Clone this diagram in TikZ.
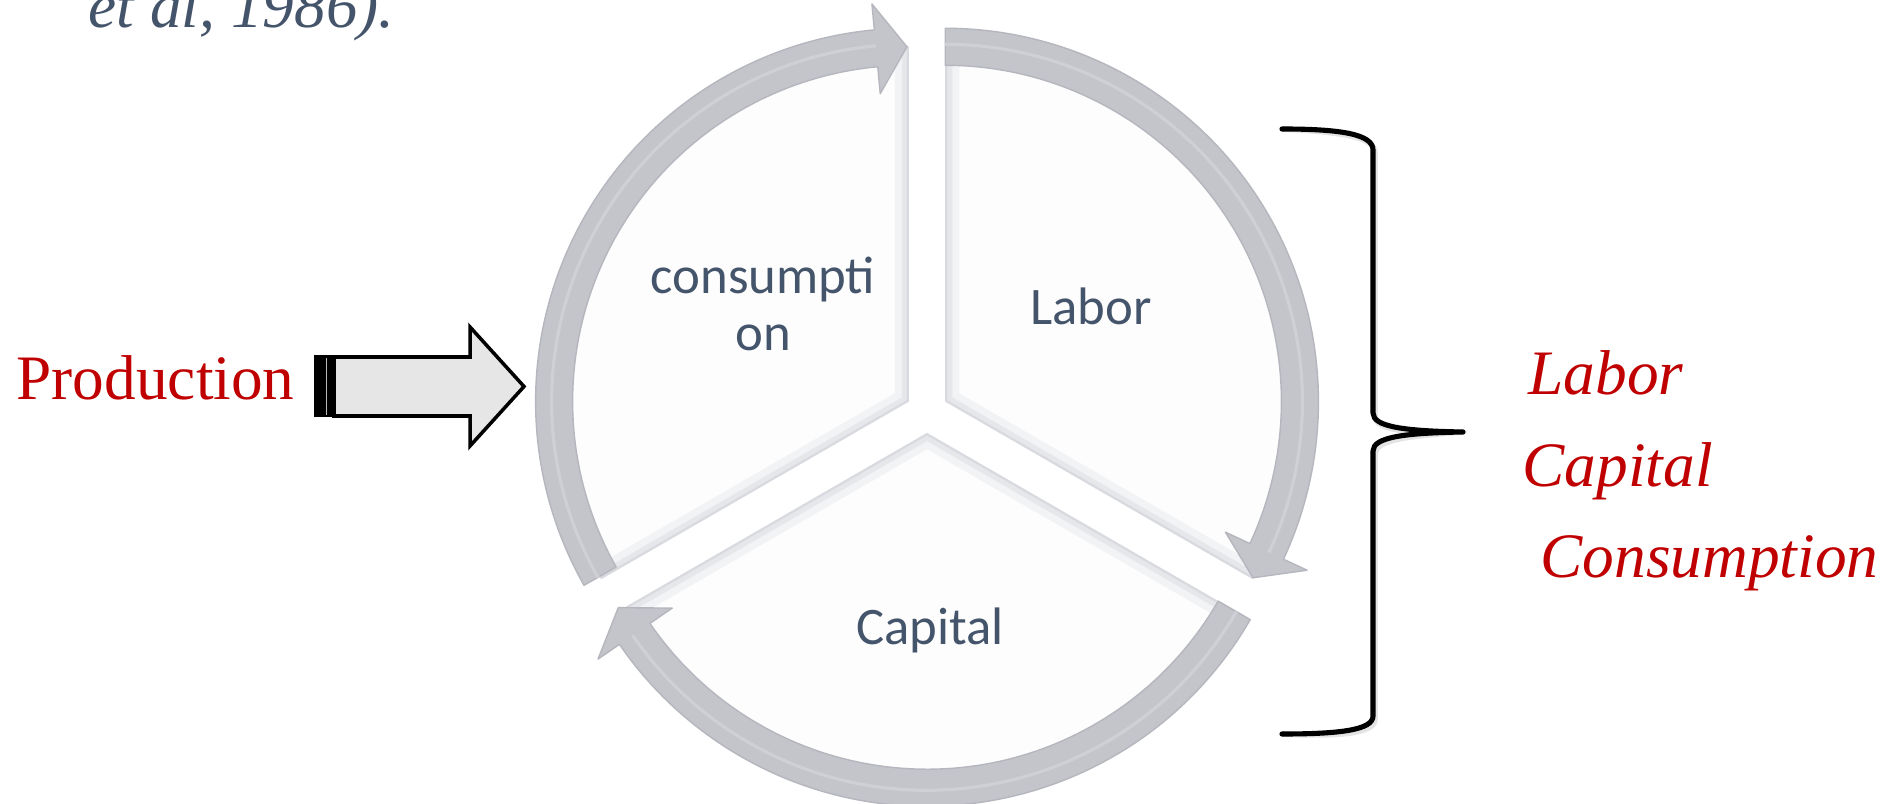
\documentclass[tikz,border=0pt]{standalone}
\usepackage{fontspec}
\setmainfont{Liberation Serif}
\newfontfamily\calibfont{Carlito}
\definecolor{slate}{HTML}{44546A}
\definecolor{redtxt}{HTML}{C00000}
\definecolor{arrowgray}{HTML}{C4C5CB}
\definecolor{arrowedge}{HTML}{B6B7BE}
\definecolor{arrowlight}{HTML}{CFD0D5}
\definecolor{secfill}{HTML}{FDFDFE}
\definecolor{bevA}{HTML}{F2F3F5}
\definecolor{bevB}{HTML}{E6E7EB}
\definecolor{bevC}{HTML}{D8DADF}
\definecolor{blockfill}{HTML}{E6E6E6}
\tikzset{
  citetext/.style={font=\fontsize{18}{21}\selectfont\itshape, text=slate, inner sep=0pt, anchor=base west},
  prodtext/.style={font=\fontsize{18}{21}\selectfont, text=redtxt, inner sep=0pt, anchor=base west},
  listtext/.style={font=\fontsize{18}{21}\selectfont\itshape, text=redtxt, inner sep=0pt, anchor=base west},
  seglabel/.style={font=\calibfont\fontsize{15}{16.4}\selectfont, text=slate, inner sep=0pt, align=center},
  cyclearrow/.style={fill=arrowgray, draw=arrowedge, line width=0.4pt, line join=round},
  stripe/.style={draw=arrowlight, line width=0.9pt},
  bracestyle/.style={draw=black, line width=1.45pt, line cap=round, line join=round},
  blockarrow/.style={fill=blockfill, draw=black, line width=1pt, line join=miter}
}
% #1 centre, #2 tail angle, #3 head base angle, #4 tip angle
\newcommand\cycarrow[4]{%
  \begin{scope}[shift={(#1)}]
    \filldraw[cyclearrow] (#2:3.73cm) arc[start angle=#2, end angle=#3, radius=3.73cm]
      -- (#3:3.99cm) -- (#4:3.545cm) -- (#3:3.09cm) -- (#3:3.36cm)
      arc[start angle=#3, end angle=#2, radius=3.36cm] -- cycle;
    \draw[stripe] (#2:3.57cm) arc[start angle=#2, end angle=#3, radius=3.57cm];
  \end{scope}}
\begin{document}
\begin{tikzpicture}[x=0.01cm,y=0.01cm]
\path[use as bounding box] (0,0) rectangle (1889,-804);
\begin{scope}
\clip (0,0) rectangle (1889,-804);
\fill[white] (0,0) rectangle (1889,-804);

% centres of the three segments
\coordinate (cc) at (908.8,-401.5);
\coordinate (cl) at (945.2,-401.5);
\coordinate (ck) at (927,-433);

% segments
\foreach \cx/\cy/\sa/\ea in {908.8/-401.5/90/210, 945.2/-401.5/-30/90, 927/-433/210/330}{
  \begin{scope}
    \clip (\cx,\cy) -- ++(\sa:3.55cm) arc[start angle=\sa, end angle=\ea, radius=3.55cm] -- cycle;
    \fill[secfill] (\cx,\cy) circle[radius=3.8cm];
    \draw[bevA, line width=8pt] (\cx,\cy) -- ++(\sa:3.55cm) arc[start angle=\sa, end angle=\ea, radius=3.55cm] -- cycle;
    \draw[bevB, line width=4pt] (\cx,\cy) -- ++(\sa:3.55cm) arc[start angle=\sa, end angle=\ea, radius=3.55cm] -- cycle;
    \draw[bevC, line width=1.2pt] (\cx,\cy) -- ++(\sa:3.55cm) arc[start angle=\sa, end angle=\ea, radius=3.55cm] -- cycle;
  \end{scope}
}

% circular arrows
\cycarrow{cc}{209.5}{95.3}{90.3}
\cycarrow{cl}{90}{-25}{-29.8}
\cycarrow{ck}{-30}{-145.5}{-150.5}

% segment labels
\node[seglabel] (tcons) at (763,-304) {consumpti\\on};
\node[seglabel, anchor=base] (tlab) at (1091,-325) {Labor};
\node[seglabel, anchor=base] (tcap) at (930,-645) {Capital};

% citation remnant at the top
\node[citetext] (cite) at (88,-28) {et al, 1986).};

% Production and block arrow
\node[prodtext] (prod) at (16,-400) {Production};
\filldraw[blockarrow] (334,-357) -- (470,-357) -- (470,-327) -- (524,-386.5)
  -- (470,-446) -- (470,-416) -- (334,-416) -- cycle;
\fill[black] (313.5,-355.5) rectangle (335,-417.5);
\fill[gray!55] (325.5,-358) rectangle (327,-415);

% brace
\coordinate (bt) at (1282,-129);
\coordinate (btip) at (1463,-432);
\coordinate (bb) at (1282,-734);
\draw[gray!35, line width=1.6pt, line cap=round, line join=round, opacity=0.6, shift={(2,-3)}]
  (bt) .. controls (1340,-129) and (1373,-134) .. (1373,-150) -- (1373,-413)
  .. controls (1373,-427) and (1405,-431) .. (btip)
  .. controls (1405,-433) and (1373,-437) .. (1373,-451) -- (1373,-716)
  .. controls (1373,-730) and (1340,-734) .. (bb);
\draw[bracestyle]
  (bt) .. controls (1340,-129) and (1373,-134) .. (1373,-150) -- (1373,-413)
  .. controls (1373,-427) and (1405,-431) .. (btip)
  .. controls (1405,-433) and (1373,-437) .. (1373,-451) -- (1373,-716)
  .. controls (1373,-730) and (1340,-734) .. (bb);

% list at the right
\node[listtext] (l1) at (1528,-395) {Labor};
\node[listtext] (l2) at (1522,-487) {Capital};
\node[listtext] (l3) at (1540,-578) {Consumption};
\end{scope}
\end{tikzpicture}
\end{document}
